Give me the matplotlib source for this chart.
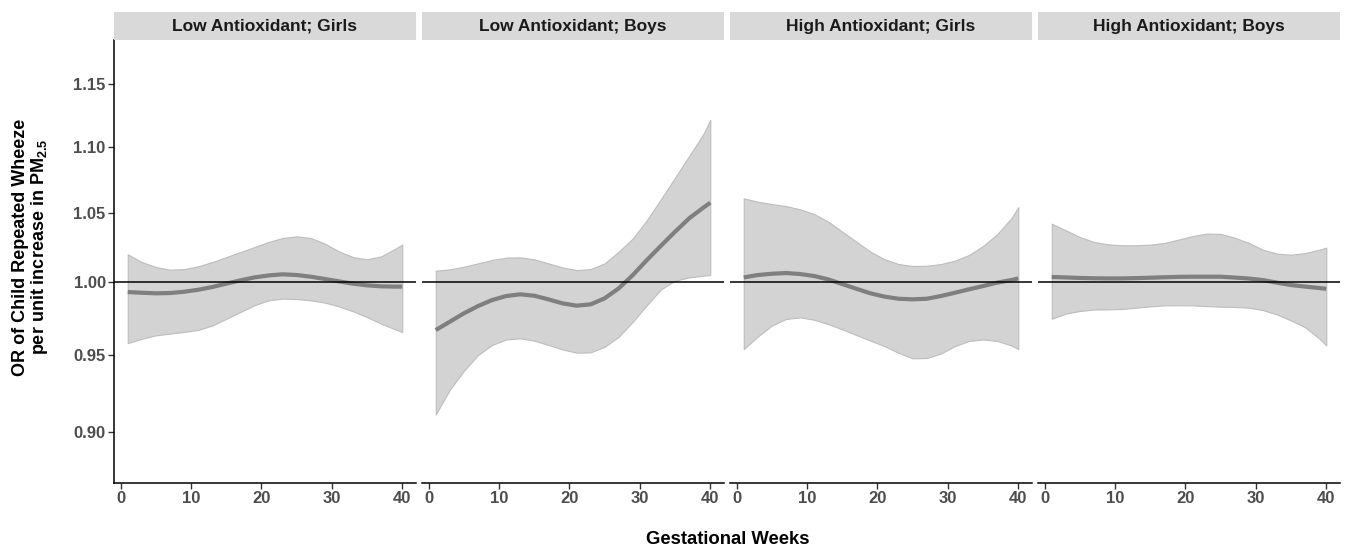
import numpy as np
import matplotlib
matplotlib.use("Agg")
import matplotlib.pyplot as plt
from matplotlib.ticker import FixedLocator, NullLocator

plt.rcParams['font.family'] = ['Liberation Sans', 'DejaVu Sans']
plt.rcParams['mathtext.fontset'] = 'custom'
plt.rcParams['mathtext.rm'] = 'Liberation Sans'
plt.rcParams['mathtext.bf'] = 'Liberation Sans:bold'

weeks = [1, 3, 5, 7, 9, 11, 13, 15, 17, 19, 21, 23, 25, 27, 29, 31, 33, 35, 37, 39, 40]

panel_titles = ["Low Antioxidant; Girls", "Low Antioxidant; Boys",
                "High Antioxidant; Girls", "High Antioxidant; Boys"]

# odds ratio estimates
or_low_girls = [0.9932, 0.9927, 0.9923, 0.9925, 0.9934, 0.9948, 0.9967, 0.9991, 1.0014, 1.0035, 1.0049,
                1.0057, 1.0052, 1.0040, 1.0024, 1.0007, 0.9991, 0.9979, 0.9972, 0.9970, 0.9970]
or_low_boys = [0.9669, 0.9726, 0.9784, 0.9834, 0.9876, 0.9904, 0.9916, 0.9906, 0.9881, 0.9853, 0.9837,
               0.9846, 0.9888, 0.9958, 1.0052, 1.0159, 1.0262, 1.0364, 1.0462, 1.0541, 1.0578]
or_high_girls = [1.0035, 1.0052, 1.0061, 1.0066, 1.0059, 1.0045, 1.0021, 0.9988, 0.9955, 0.9923, 0.9900,
                 0.9885, 0.9881, 0.9885, 0.9904, 0.9927, 0.9951, 0.9974, 0.9998, 1.0016, 1.0028]
or_high_boys = [1.0038, 1.0035, 1.0031, 1.0029, 1.0028, 1.0028, 1.0030, 1.0033, 1.0036, 1.0039, 1.0040,
                1.0040, 1.0040, 1.0034, 1.0027, 1.0016, 0.9998, 0.9981, 0.9970, 0.9960, 0.9955]

# upper confidence limits
hi_low_girls = [1.0200, 1.0144, 1.0109, 1.0090, 1.0094, 1.0114, 1.0144, 1.0180, 1.0216, 1.0252, 1.0289,
                1.0318, 1.0330, 1.0318, 1.0277, 1.0221, 1.0180, 1.0164, 1.0185, 1.0240, 1.0270]
hi_low_boys = [1.0083, 1.0092, 1.0111, 1.0135, 1.0159, 1.0176, 1.0178, 1.0164, 1.0135, 1.0106, 1.0087,
               1.0094, 1.0135, 1.0219, 1.0315, 1.0449, 1.0605, 1.0767, 1.0933, 1.1101, 1.1214]
hi_high_girls = [1.0611, 1.0586, 1.0568, 1.0553, 1.0529, 1.0494, 1.0438, 1.0364, 1.0291, 1.0219, 1.0164,
                 1.0130, 1.0116, 1.0118, 1.0130, 1.0154, 1.0195, 1.0260, 1.0345, 1.0462, 1.0544]
hi_high_boys = [1.0423, 1.0374, 1.0325, 1.0289, 1.0272, 1.0265, 1.0265, 1.0270, 1.0282, 1.0306, 1.0332,
                1.0350, 1.0348, 1.0320, 1.0282, 1.0233, 1.0205, 1.0197, 1.0209, 1.0233, 1.0248]

# lower confidence limits
lo_low_girls = [0.9580, 0.9610, 0.9633, 0.9645, 0.9656, 0.9670, 0.9700, 0.9746, 0.9793, 0.9840, 0.9874,
                0.9886, 0.9883, 0.9874, 0.9858, 0.9832, 0.9798, 0.9758, 0.9713, 0.9674, 0.9656]
lo_low_boys = [0.9110, 0.9270, 0.9395, 0.9500, 0.9568, 0.9605, 0.9613, 0.9597, 0.9568, 0.9538, 0.9516,
               0.9518, 0.9556, 0.9624, 0.9726, 0.9841, 0.9951, 1.0012, 1.0035, 1.0047, 1.0052]
lo_high_girls = [0.9540, 0.9625, 0.9700, 0.9745, 0.9756, 0.9740, 0.9710, 0.9674, 0.9635, 0.9597, 0.9560,
                 0.9515, 0.9478, 0.9480, 0.9510, 0.9560, 0.9595, 0.9605, 0.9595, 0.9565, 0.9540]
lo_high_boys = [0.9747, 0.9782, 0.9800, 0.9810, 0.9811, 0.9814, 0.9823, 0.9832, 0.9839, 0.9840, 0.9839,
                0.9834, 0.9830, 0.9828, 0.9823, 0.9806, 0.9776, 0.9735, 0.9688, 0.9612, 0.9565]

estimates = [or_low_girls, or_low_boys, or_high_girls, or_high_boys]
uppers = [hi_low_girls, hi_low_boys, hi_high_girls, hi_high_boys]
lowers = [lo_low_girls, lo_low_boys, lo_high_girls, lo_high_boys]

y_ticks = [0.90, 0.95, 1.00, 1.05, 1.10, 1.15]
x_ticks = [0, 10, 20, 30, 40]

W, H = 1348, 552
fig = plt.figure(figsize=(W / 100, H / 100), dpi=100)

panel_lefts = [114, 422, 730, 1038]
panel_w = 302
ax_bottom, ax_top = 483, 40
strip_top = 12

for i, left in enumerate(panel_lefts):
    ax = fig.add_axes([left / W, (H - ax_bottom) / H, panel_w / W, (ax_bottom - ax_top) / H])
    ax.fill_between(weeks, lowers[i], uppers[i], facecolor='#d3d3d3', edgecolor='#bdbdbd', linewidth=0.8, zorder=1)
    ax.plot(weeks, estimates[i], color='#7f7f7f', linewidth=3.0, solid_capstyle='butt',
            solid_joinstyle='round', zorder=2)
    ax.axhline(1.0, color='black', linewidth=1.1, zorder=3)

    ax.set_yscale('log')
    ax.set_ylim(0.868, 1.1865)
    ax.set_xlim(-0.95, 41.95)
    ax.xaxis.set_major_locator(FixedLocator(x_ticks))
    ax.xaxis.set_minor_locator(NullLocator())
    ax.yaxis.set_minor_locator(NullLocator())

    for s in ['top', 'right']:
        ax.spines[s].set_visible(False)
    ax.spines['bottom'].set_linewidth(1.1)
    ax.tick_params(axis='x', length=4, width=1.0, color='#333333', labelsize=12,
                   labelcolor='#4d4d4d', pad=2)
    for lab in ax.get_xticklabels():
        lab.set_fontweight('bold')

    if i == 0:
        ax.yaxis.set_major_locator(FixedLocator(y_ticks))
        ax.set_yticklabels([f"{v:.2f}" for v in y_ticks])
        ax.spines['left'].set_linewidth(1.1)
        ax.tick_params(axis='y', length=4, width=1.0, color='#333333', labelsize=12,
                       labelcolor='#4d4d4d', pad=2)
        for lab in ax.get_yticklabels():
            lab.set_fontweight('bold')
    else:
        ax.spines['left'].set_visible(False)
        ax.yaxis.set_major_locator(NullLocator())

    # facet strip
    sax = fig.add_axes([left / W, (H - ax_top) / H, panel_w / W, (ax_top - strip_top) / H])
    sax.set_facecolor('#d9d9d9')
    sax.set_xticks([])
    sax.set_yticks([])
    for s in sax.spines.values():
        s.set_visible(False)
    sax.text(0.5, 0.5, panel_titles[i], ha='center', va='center', fontsize=12.5,
             fontweight='bold', color='#1a1a1a', transform=sax.transAxes)

fig.text(728 / W, 1 - 540 / H, "Gestational Weeks", ha='center', va='center',
         fontsize=13.3, fontweight='bold')
fig.text(31 / W, 1 - 247 / H,
         "OR of Child Repeated Wheeze\nper unit increase in $\\mathbf{PM}_{\\mathbf{2.5}}$",
         ha='center', va='center', rotation=90, fontsize=13, fontweight='bold',
         linespacing=1.0)

fig.savefig("out.png", dpi=100)
